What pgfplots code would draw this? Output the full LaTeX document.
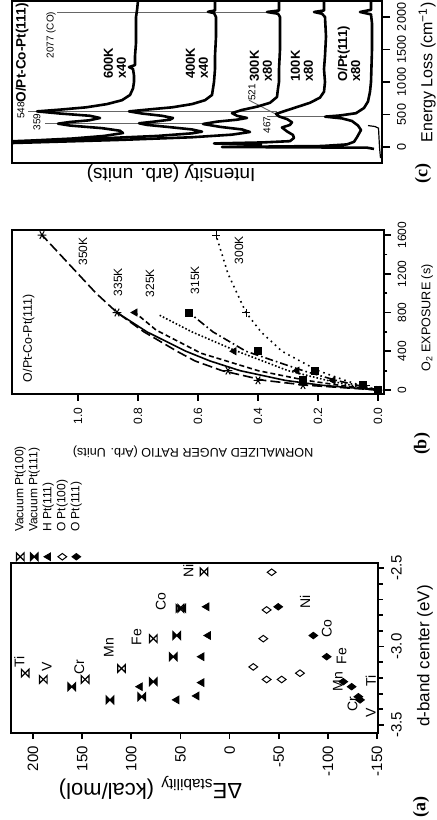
\documentclass[border=0pt]{standalone}
\usepackage{pgfplots}
\pgfplotsset{compat=1.18}
\usepackage{fontspec}
\usepackage{graphicx}
\setmainfont{Liberation Sans}
\newfontfamily\timesf{Liberation Serif}
\newcommand\fs[1]{\fontsize{#1}{#1}\selectfont}

% hourglass marks (bowtie standing upright)
\pgfdeclareplotmark{hourglass}{%
  \pgfpathmoveto{\pgfqpoint{-\pgfplotmarksize}{\pgfplotmarksize}}%
  \pgfpathlineto{\pgfqpoint{\pgfplotmarksize}{\pgfplotmarksize}}%
  \pgfpathlineto{\pgfqpoint{-\pgfplotmarksize}{-\pgfplotmarksize}}%
  \pgfpathlineto{\pgfqpoint{\pgfplotmarksize}{-\pgfplotmarksize}}%
  \pgfpathclose\pgfusepathqstroke}
\pgfdeclareplotmark{hourglass*}{%
  \pgfpathmoveto{\pgfqpoint{-\pgfplotmarksize}{\pgfplotmarksize}}%
  \pgfpathlineto{\pgfqpoint{\pgfplotmarksize}{\pgfplotmarksize}}%
  \pgfpathlineto{\pgfqpoint{-\pgfplotmarksize}{-\pgfplotmarksize}}%
  \pgfpathlineto{\pgfqpoint{\pgfplotmarksize}{-\pgfplotmarksize}}%
  \pgfpathclose\pgfusepathqfillstroke}

\begin{document}
\rotatebox{90}{%
\begin{tikzpicture}
\useasboundingbox (0,0) rectangle (410pt,-218.5pt);
\pgfplotsset{every axis/.append style={
  scale only axis, axis line style={line width=0.9pt},
  every tick/.style={black, line width=0.9pt},
  tick align=outside, xtick pos=left, ytick pos=left,
  major tick length=3pt, minor tick length=2.5pt}}

% ---------------- (a) ----------------
\begin{axis}[
  at={(43.5pt,-5.5pt)}, anchor=north west,
  width=85pt, height=183.5pt,
  xmin=-3.551, xmax=-2.468, ymin=-151, ymax=222.4,
  xtick={-3.5,-3,-2.5}, xticklabels={-3.5,-3.0,-2.5},
  minor xtick={-3.4,-3.3,-3.2,-3.1,-2.9,-2.8,-2.7,-2.6},
  ytick={-150,-100,-50,0,50,100,150,200},
  yticklabels={-150,-100,-50,0,50,100,150,200},
  tick label style={font=\fs{7.5}},
  xlabel={d-band center (eV)},
  xlabel style={font=\fs{8.5}, at={(axis description cs:0.453,-0.128)}, anchor=center},
  ylabel={ΔE\textsubscript{stability} (kcal/mol)},
  ylabel style={font=\fs{11}, at={(axis description cs:-0.324,0.62)}, anchor=center},
  legend style={at={(axis description cs:1.012,0.992)}, anchor=north west,
    draw=none, fill=none, inner sep=0pt, font=\fs{6}, row sep=1pt, column sep=10.5pt,
    nodes={inner sep=0pt, text height=4.5pt, text depth=1.5pt}},
  legend cell align=left,
  legend image code/.code={\draw[#1] plot coordinates {(0pt,0pt)};},
]
\addplot[only marks, mark=hourglass, mark size=1.9pt, line width=0.6pt] coordinates {
  (-3.17,208) (-3.21,189.5) (-3.21,147) (-3.14,110) (-2.95,77.6) (-2.757,50.5) (-2.524,26)};
\addlegendentry{Vacuum Pt(100)}
\addplot[only marks, mark=hourglass*, mark size=1.9pt, line width=0.6pt] coordinates {
  (-3.256,160.6) (-3.34,121.7) (-3.32,89.4) (-3.224,77.6) (-3.065,57.3) (-2.93,53.8) (-2.757,48.7)};
\addlegendentry{Vacuum Pt(111)}
\addplot[only marks, mark=triangle*, mark size=2.2pt] coordinates {
  (-3.34,53.8) (-3.256,91) (-3.315,33.5) (-3.23,28.4) (-3.065,28.4) (-2.93,21.7) (-2.747,23.3)};
\addlegendentry{H Pt(111)}
\addplot[only marks, mark=diamond, mark size=2.2pt, line width=0.5pt] coordinates {
  (-3.13,-24.1) (-3.21,-37.7) (-3.21,-53) (-3.17,-71.6) (-2.95,-34.3) (-2.767,-37.7) (-2.527,-42.8)};
\addlegendentry{O Pt(100)}
\addplot[only marks, mark=diamond*, mark size=2.2pt] coordinates {
  (-2.747,-49.5) (-2.93,-85.2) (-3.065,-98.8) (-3.224,-115.7) (-3.256,-124.2) (-3.32,-131) (-3.34,-132.7)};
\addlegendentry{O Pt(111)}
\begin{scope}[every node/.style={font=\fs{7}}]
\node at (axis cs:-3.10,214) {Ti};
\node at (axis cs:-3.13,186) {V};
\node at (axis cs:-3.13,153) {Cr};
\node at (axis cs:-3.006,123) {Mn};
\node at (axis cs:-2.94,94.5) {Fe};
\node at (axis cs:-2.715,70) {Co};
\node at (axis cs:-2.52,42) {Ni};
\node at (axis cs:-2.715,-76.7) {Ni};
\node at (axis cs:-2.884,-98.8) {Co};
\node at (axis cs:-3.06,-114) {Fe};
\node at (axis cs:-3.224,-110) {Mn};
\node at (axis cs:-3.22,-143.7) {Ti};
\node at (axis cs:-3.37,-125) {Cr};
\node at (axis cs:-3.42,-143.7) {V};
\end{scope}
\end{axis}

% ---------------- (b) ----------------
\begin{axis}[
  at={(213pt,-6pt)}, anchor=north west,
  width=82pt, height=186pt,
  xmin=-41, xmax=1652, ymin=-0.02, ymax=1.22,
  xtick={0,400,800,1200,1600}, xticklabels={0,400,800,1200,1600},
  minor xtick={200,600,1000,1400},
  ytick={0,0.2,0.4,0.6,0.8,1.0}, yticklabels={0.0,0.2,0.4,0.6,0.8,1.0},
  tick label style={font=\fs{6}}, minor tick length=1.7pt, major tick length=3.3pt,
  xlabel={O\textsubscript{2} EXPOSURE (s)},
  xlabel style={font=\fs{6.3}, at={(axis description cs:0.463,-0.116)}, anchor=center},
  ylabel={NORMALIZED AUGER RATIO (Arb. Units)},
  ylabel style={font=\fs{6.3}, at={(axis description cs:-0.354,0.513)}, anchor=center},
]
% 350K
\addplot[black, line width=0.8pt, dash pattern=on 5pt off 2pt] coordinates {
  (0,0) (50,0.24) (100,0.38) (200,0.52) (300,0.61) (400,0.67) (600,0.78) (800,0.87)
  (1000,0.94) (1200,1.00) (1400,1.06) (1600,1.12)};
% 335K
\addplot[black, line width=0.8pt] coordinates {
  (0,0) (50,0.19) (100,0.31) (200,0.46) (300,0.56) (400,0.64) (600,0.77) (800,0.87)};
% 325K
\addplot[black, line width=0.8pt, dash pattern=on 2.5pt off 1.5pt] coordinates {
  (0,0) (50,0.13) (100,0.24) (200,0.40) (380,0.59) (620,0.74) (800,0.81)};
\addplot[black, line width=0.8pt, densely dotted] coordinates {
  (0,0) (50,0.09) (100,0.17) (200,0.30) (413,0.48) (600,0.62) (775,0.73)};
% 315K
\addplot[black, line width=0.8pt, dash pattern=on 4pt off 1.5pt on 0.8pt off 1.5pt] coordinates {
  (0,0) (50,0.07) (100,0.14) (200,0.25) (400,0.44) (600,0.55) (800,0.63)};
% 300K
\addplot[black, line width=0.8pt, dotted] coordinates {
  (0,0) (50,0.06) (100,0.11) (200,0.20) (400,0.32) (600,0.39) (800,0.44)
  (1000,0.47) (1200,0.50) (1400,0.52) (1600,0.54)};
% markers
\addplot[only marks, mark=asterisk, mark size=2.2pt, line width=0.5pt] coordinates {
  (0,0) (50,0.25) (100,0.40) (200,0.50) (800,0.87) (1600,1.12)};
\addplot[only marks, mark=triangle*, mark size=2pt] coordinates {
  (0,0) (50,0.05) (100,0.15) (200,0.27) (400,0.48) (800,0.81)};
\addplot[only marks, mark=square*, mark size=1.8pt] coordinates {
  (0,0) (50,0.05) (100,0.25) (200,0.21) (400,0.40) (800,0.63)};
\addplot[only marks, mark=+, mark size=2pt, line width=0.5pt] coordinates {
  (50,0.04) (800,0.44) (1600,0.54)};
\begin{scope}[every node/.style={font=\fs{6}}]
\node at (axis cs:1430,0.983) {350K};
\node at (axis cs:1113,0.867) {335K};
\node at (axis cs:1104,0.76) {325K};
\node at (axis cs:1135,0.61) {315K};
\node at (axis cs:1445,0.463) {300K};
\node[anchor=west, font=\fs{6.2}] at (axis description cs:0.03,0.955) {O/Pt-Co-Pt(111)};
\end{scope}
\end{axis}

% ---------------- (c) ----------------
\begin{axis}[
  at={(328.5pt,-6pt)}, anchor=north west,
  width=81pt, height=185pt,
  xmin=-246, xmax=2246, ymin=0, ymax=370,
  xtick={0,500,1000,1500,2000}, xticklabels={0,500,1000,1500,2000},
  ytick=\empty, major tick length=4pt,
  tick label style={font=\fs{6.3}},
  xlabel={Energy Loss (cm\textsuperscript{−1})},
  xlabel style={font=\fs{8}, at={(axis description cs:0.085,-0.122)}, anchor=west},
  ylabel={Intensity (arb. units)},
  ylabel style={font=\fs{9.5}, at={(axis description cs:-0.062,0.57)}, anchor=center},
]
% reference lines
\addplot[gray!80!black, line width=0.45pt] coordinates {(548,105) (548,354)};
\addplot[gray!80!black, line width=0.45pt] coordinates {(359,180) (359,337)};
\addplot[gray!80!black, line width=0.45pt] coordinates {(2077,115) (2077,325)};
\addplot[gray!80!black, line width=0.45pt] coordinates {(467,55) (467,115)};
\addplot[gray!80!black, line width=0.45pt] coordinates {(720,133) (440,98)};
% 600K x40
\addplot[black, line width=1.3pt, line join=round] coordinates {
  (60,420) (85,375) (100,350) (130,310) (170,278) (215,259) (250,262) (290,280) (330,312)
  (359,324) (385,312) (410,293) (446,282) (480,292) (515,322) (548,345) (575,322) (610,296)
  (660,275) (720,260) (800,252) (900,249) (1000,248) (1100,248) (1200,249) (1230,253)
  (1260,247) (1400,247) (1600,246) (1800,246) (2000,246) (2100,245) (2250,244)};
% 400K x40
\addplot[black, line width=1.3pt, line join=round] coordinates {
  (50,420) (80,370) (100,335) (130,285) (170,225) (210,190) (236,180) (270,190) (310,215)
  (340,235) (365,243) (390,228) (420,212) (446,209) (480,220) (515,240) (548,253) (575,235)
  (610,210) (660,190) (720,177) (800,170) (1000,168) (1200,167) (1400,167) (1700,166)
  (2000,166) (2060,168) (2080,174) (2100,167) (2250,167)};
% 300K x80
\addplot[black, line width=1.3pt, line join=round] coordinates {
  (40,420) (70,350) (110,260) (150,190) (190,150) (231,132) (270,140) (310,162) (354,179)
  (390,165) (420,145) (447,135) (480,145) (521,150) (570,140) (620,125) (680,112) (770,105)
  (900,104) (1000,103) (1200,103) (1500,102) (1800,102) (2000,102) (2050,104) (2077,115)
  (2100,103) (2250,103)};
% 100K x80
\addplot[black, line width=1.3pt, line join=round] coordinates {
  (30,120) (55,168) (70,120) (90,92) (140,88) (185,89) (240,95) (300,100) (340,92) (380,90)
  (430,95) (470,103) (510,106) (540,100) (600,88) (680,72) (760,62) (850,58) (1000,57)
  (1200,58) (1400,57) (1700,56) (2000,57) (2050,60) (2077,68) (2100,58) (2250,58)};
% O/Pt(111) x80
\addplot[black, line width=1.3pt, line join=round] coordinates {
  (-30,8) (-10,15) (0,160) (15,60) (40,35) (80,28) (150,25) (262,21) (330,24) (400,30)
  (440,40) (467,57) (485,42) (520,26) (600,18) (700,14) (850,12) (1000,11) (1500,10)
  (1900,10) (2040,11) (2077,22) (2110,11) (2250,11)};
% unscaled trace
\addplot[black, line width=0.6pt] coordinates {
  (-170,1.5) (0,2.5) (290,3.5) (315,7) (330,14)};
\begin{scope}[every node/.style={font=\fs{6.5}\bfseries, align=left, inner sep=0pt}]
\node[anchor=west] at (axis cs:1040,267) {600K\\x40};
\node[anchor=west] at (axis cs:1040,185) {400K\\x40};
\node[anchor=west] at (axis cs:1000,121) {300K\\x80};
\node[anchor=west] at (axis cs:1000,80) {100K\\x80};
\node[anchor=west] at (axis cs:1000,33) {O/Pt(111)\\x80};
\end{scope}
\node[anchor=west, font=\fs{6.8}\bfseries, inner sep=0pt] at (axis cs:680,360) {O/Pt-Co-Pt(111)};
\begin{scope}[every node/.style={font=\fs{5}, inner sep=0pt}]
\node at (axis cs:560,361) {548};
\node at (axis cs:383,345) {359};
\node at (axis cs:1720,331) {2077 (CO)};
\node at (axis cs:340,115) {467};
\node at (axis cs:840,130) {521};
\end{scope}
\end{axis}

\node[font=\timesf\bfseries\fs{9}] at (6.5pt,-210.5pt) {(a)};
\node[font=\timesf\bfseries\fs{9}] at (188pt,-211pt) {(b)};
\node[font=\timesf\bfseries\fs{9}] at (323.3pt,-211.5pt) {(c)};
\end{tikzpicture}}
\end{document}
